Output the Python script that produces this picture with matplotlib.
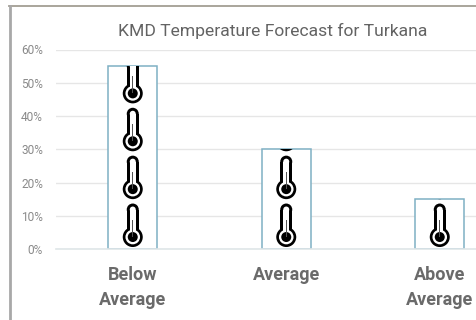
import math
import matplotlib
matplotlib.use('Agg')
import matplotlib.pyplot as plt
from matplotlib.lines import Line2D
from matplotlib.patches import Circle, Rectangle
from matplotlib.transforms import Affine2D, ScaledTranslation

# Values
categories = ['Below\nAverage', 'Average', 'Above\nAverage']
values = [55, 30, 15]
y_ticks = [0, 10, 20, 30, 40, 50, 60]
y_tick_labels = ['0%', '10%', '20%', '30%', '40%', '50%', '60%']
title = 'KMD Temperature Forecast for Turkana'

# Each thermometer stands for this many percent of the stack
icon_unit = 14.4

W, H = 476, 320
plt.rcParams['font.family'] = ['Roboto', 'DejaVu Sans']

fig = plt.figure(figsize=(W / 100, H / 100), dpi=100, facecolor='white')
# the plot runs off the right side of the picture, like the cropped original
ax = fig.add_axes([56 / W, (H - 249) / H, 460.5 / W, 199.5 / H])
ax.set_xlim(-0.5, 2.5)
ax.set_ylim(0, 60)

ax.yaxis.grid(True, color='#e6e6e6', lw=1)
ax.set_axisbelow(True)
for s in ax.spines.values():
    s.set_visible(False)

bars = ax.bar(range(len(values)), values, width=0.316, facecolor='white',
              edgecolor='#7fb0c4', linewidth=1.1, zorder=2)
# baseline runs over the bottom edge of the bars
ax.axhline(0, color='#dfe6e8', lw=1.2, zorder=2.5, clip_on=False)


def draw_icon(x, y, bar):
    # thermometer in pixels around the bulb centre, placed at data position x, y
    tr = Affine2D() + ScaledTranslation(x, y, ax.transData)
    parts = [
        Circle((0, 0), 10, fc='black'),
        Rectangle((-6, 0), 12, 27.5, fc='black'),
        Circle((0, 27.5), 6, fc='black'),
        Circle((0, 0), 7.3, fc='white'),
        Rectangle((-3, 0), 6, 27.5, fc='white'),
        Circle((0, 27.5), 3, fc='white'),
        Circle((0, 0), 5, fc='black'),
        Rectangle((-0.7, 0), 1.4, 17, fc='#555555'),
    ]
    for p in parts:
        p.set_transform(tr)
        p.set_linewidth(0)
        p.set_zorder(3)
        ax.add_artist(p)
        p.set_clip_path(bar)


for i, v in enumerate(values):
    n = math.ceil(v / icon_unit)
    for k in range(n):
        draw_icon(i, 3.6 + k * icon_unit, bars[i])

ax.set_yticks(y_ticks)
ax.set_yticklabels(y_tick_labels, fontsize=8.6, color='#8a8a8a')
ax.set_xticks(range(len(categories)))
ax.set_xticklabels(categories, fontsize=13, fontweight='bold', color='#6a6a6a',
                   linespacing=1.5)
ax.tick_params(axis='both', length=0)
ax.tick_params(axis='y', pad=9.4)
ax.tick_params(axis='x', pad=12)

fig.text(272.5 / W, 1 - 31 / H, title, fontsize=12.6, color='#636363',
         ha='center', va='center')

# frame of the original screenshot, only top and left are in view
fig.add_artist(Line2D([9 / W, 1], [1 - 6 / H, 1 - 6 / H], color='#a39e93', lw=1.3))
fig.add_artist(Line2D([9.5 / W, 9.5 / W], [0, 1 - 6 / H], color='#a8a8a8', lw=2))

fig.savefig('out.png', dpi=100)
